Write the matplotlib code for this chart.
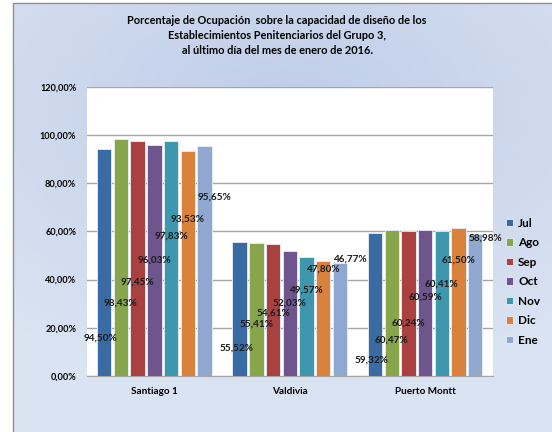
import numpy as np
import matplotlib.pyplot as plt
from matplotlib.patches import Rectangle
from matplotlib.colors import LinearSegmentedColormap

plt.rcParams['font.family'] = ['Lato', 'DejaVu Sans']

groups = ['Santiago 1', 'Valdivia', 'Puerto Montt']
months = ['Jul', 'Ago', 'Sep', 'Oct', 'Nov', 'Dic', 'Ene']
values = {
    'Jul': [94.50, 55.52, 59.32],
    'Ago': [98.43, 55.41, 60.47],
    'Sep': [97.45, 54.61, 60.24],
    'Oct': [96.03, 52.03, 60.59],
    'Nov': [97.83, 49.57, 60.41],
    'Dic': [93.53, 47.80, 61.50],
    'Ene': [95.65, 46.77, 58.98],
}
colors = ['#3a6ca3', '#87a54b', '#a8413f', '#6e558e', '#3e97ad', '#d8823c', '#90a8cf']

# excel dejo las etiquetas desordenadas, alturas aprox. en unidades del eje
label_y = {
    'Jul': [15.8, 11.5, 6.3],
    'Ago': [30.4, 21.5, 14.7],
    'Sep': [39.0, 26.2, 21.8],
    'Oct': [48.1, 30.2, 32.7],
    'Nov': [57.9, 35.7, 38.2],
    'Dic': [65.3, 44.3, 48.2],
    'Ene': [74.2, 48.5, 57.1],
}
label_dx = [-0.025, 0, 0, 0, 0, 0, 0.078]

fig = plt.figure(figsize=(5.52, 4.32), dpi=100)

# fondo degradado
bg = fig.add_axes([0, 0, 1, 1], zorder=-10)
yy, xx = np.mgrid[0:1:200j, 0:1:200j]
r = np.sqrt(((xx - 0.52) / 1.0) ** 2 + ((yy - 0.25) / 0.8) ** 2)
cmap = LinearSegmentedColormap.from_list('bg', ['#bfcde8', '#dae3f2'])
bg.imshow(np.clip(r / 0.8, 0, 1), cmap=cmap, extent=[0, 1, 0, 1], origin='upper', aspect='auto')
bg.add_patch(Rectangle((0, 0), 13 / 552, 1, color='white', transform=bg.transAxes))
bg.add_patch(Rectangle((0, 1 - 3 / 432), 1, 3 / 432, color='white', transform=bg.transAxes))
bg.plot([13 / 552, 13 / 552, 1], [0, 1 - 3 / 432, 1 - 3 / 432], color='#8c8c8c', lw=1)
bg.set_xlim(0, 1)
bg.set_ylim(0, 1)
bg.axis('off')

ax = fig.add_axes([0.157, 0.1303, 0.7356, 0.6677])
ax.set_facecolor('white')

x = np.arange(len(groups))
width = 0.106
step = 0.1232

for i, m in enumerate(months):
    offset = (i - 3) * step
    ax.bar(x + offset, values[m], width, color=colors[i], label=m,
           edgecolor='#e8eef7', linewidth=0.6, zorder=3)
    for j in range(len(groups)):
        ax.text(x[j] + offset + label_dx[i], label_y[m][j],
                f'{values[m][j]:.2f}%'.replace('.', ','),
                ha='center', va='center', fontsize=7.2, fontweight='bold',
                color='#1a1a1a', zorder=5)

ax.set_xlim(-0.5, 2.5)
ax.set_ylim(0, 120)
ax.set_yticks(np.arange(0, 121, 20))
ax.set_yticklabels([f'{v:.2f}%'.replace('.', ',') for v in np.arange(0, 121, 20)],
                   fontsize=6.6, fontweight='bold')
ax.set_xticks(x, groups, fontsize=7.2, fontweight='bold')
ax.tick_params(axis='y', length=0, pad=7.5)
ax.tick_params(axis='x', length=0, pad=8)
ax.grid(axis='y', color='#a6a6a6', linewidth=1, zorder=0)
for s in ['left', 'right', 'top']:
    ax.spines[s].set_visible(False)
ax.spines['bottom'].set_color('#a6a6a6')

ax.legend(loc='center left', bbox_to_anchor=(0.898, 0.348), bbox_transform=fig.transFigure,
          frameon=False, prop={'weight': 'bold', 'size': 8.5},
          handlelength=0.6, handleheight=0.6, handletextpad=0.4, labelspacing=0.72)

fig.text(0.502, 0.966,
         'Porcentaje de Ocupación  sobre la capacidad de diseño de los\n'
         'Establecimientos Penitenciarios del Grupo 3,\n'
         'al último día del mes de enero de 2016.',
         ha='center', va='top', fontsize=7.9, fontweight='bold', linespacing=1.45)

fig.savefig('out.png', dpi=100)
